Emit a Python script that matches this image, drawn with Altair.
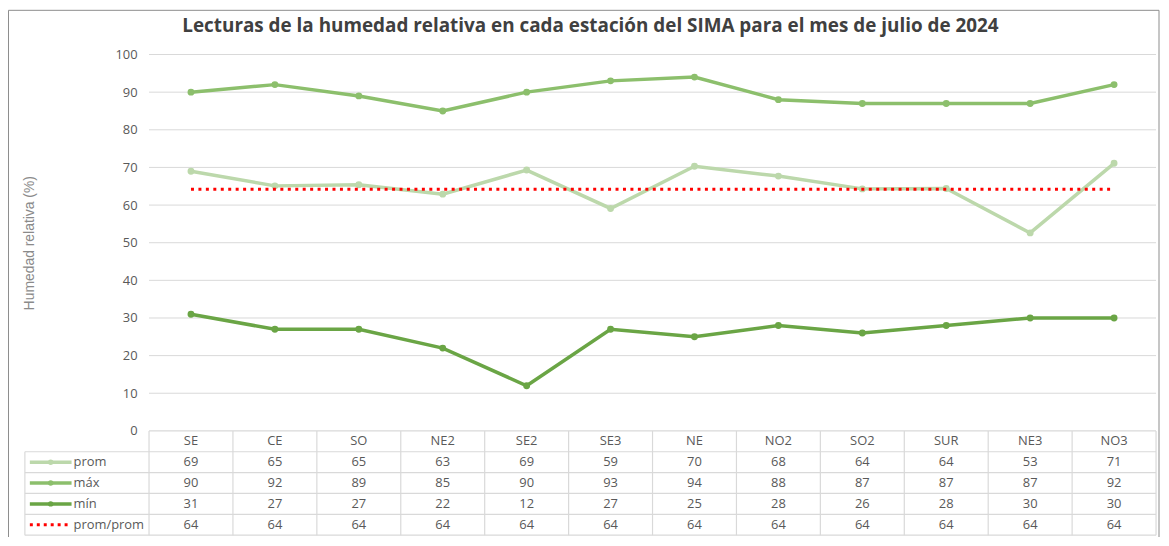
import altair as alt
import pandas as pd

# ---- data ----
stations = ["SE", "CE", "SO", "NE2", "SE2", "SE3", "NE", "NO2", "SO2", "SUR", "NE3", "NO3"]
prom = [69.0, 65.1, 65.4, 62.9, 69.3, 59.1, 70.3, 67.7, 64.3, 64.4, 52.6, 71.1]
maxv = [90, 92, 89, 85, 90, 93, 94, 88, 87, 87, 87, 92]
minv = [31, 27, 27, 22, 12, 27, 25, 28, 26, 28, 30, 30]
prom_prom = [64.2] * 12
series_names = ["prom", "máx", "mín", "prom/prom"]
series_colors = ["#bcd8ab", "#8cbf6c", "#6aa545", "#ff0000"]
y_ticks = [0, 10, 20, 30, 40, 50, 60, 70, 80, 90, 100]

# ---- layout helpers (in scale units) ----
PLOT_W = 1139
LEG_PX = 125
COL_PX = (PLOT_W - LEG_PX) / 12
LEG_U = LEG_PX / COL_PX          # legend column width in x units
PLOT_H = 484
ROW_PX = 21
PPU = (PLOT_H - 5 * ROW_PX) / 100.0
ROW_U = ROW_PX / PPU              # table row height in y units
X_DOM = [-LEG_U, 12]
Y_DOM = [-5 * ROW_U, 100]

xs = alt.Scale(domain=X_DOM, nice=False, zero=False)
ys = alt.Scale(domain=Y_DOM, nice=False, zero=False)
FONT = "Open Sans"
GRID = "#d9d9d9"
TXT = "#595959"

all_vals = [prom, maxv, minv, prom_prom]

rows = []
for s, vals in zip(series_names, all_vals):
    for i, (st, v) in enumerate(zip(stations, vals)):
        rows.append({"serie": s, "estacion": st, "xc": i + 0.5, "valor": v})
df = pd.DataFrame(rows)

color_scale = alt.Scale(domain=series_names, range=series_colors)

YAX = alt.Axis(values=y_ticks, title="Humedad relativa (%)", grid=False,
               domain=False, ticks=False, offset=-LEG_PX, labelPadding=12,
               labelFont=FONT, labelFontSize=13, labelColor=TXT,
               titleFont="Liberation Sans", titleFontSize=14, titleFontWeight="normal",
               titleColor="#8a8a8a", titleX=-LEG_PX + 5, titleY=50 * PPU,
               titleAngle=-90, titleAlign="center", titleBaseline="middle")
XQ = lambda f: alt.X(f, scale=xs, axis=None)
YQ = lambda f: alt.Y(f, scale=ys, axis=YAX)

# outer chart frame (decorative border around the whole figure)
FRAME_TOP_PX = 44.5
frame_df = pd.DataFrame({"x0": [X_DOM[0] - 16.5 / COL_PX], "x1": [12 + 3 / COL_PX],
                         "y0": [Y_DOM[0] - 12 / PPU], "y1": [100 + FRAME_TOP_PX / PPU]})
frame = alt.Chart(frame_df).mark_rect(fill="transparent", stroke="#8c8c8c",
                                      strokeWidth=1).encode(
    x=XQ("x0:Q"), x2="x1:Q", y=YQ("y0:Q"), y2="y1:Q")

# gridlines
grid_df = pd.DataFrame({"y": [t for t in y_ticks if t > 0], "x0": 0, "x1": 12})
grid = alt.Chart(grid_df).mark_rule(color=GRID, strokeWidth=1).encode(
    x=XQ("x0:Q"), x2="x1:Q", y=YQ("y:Q"))

# table lines
hl = [{"y": 0.0, "x0": 0.0, "x1": 12.0}] + [
    {"y": -k * ROW_U, "x0": -LEG_U, "x1": 12.0} for k in range(1, 6)]
vl = [{"x": float(k), "y0": 0.0, "y1": -5 * ROW_U} for k in range(0, 13)] + [
    {"x": -LEG_U, "y0": -ROW_U, "y1": -5 * ROW_U}]
hlines = alt.Chart(pd.DataFrame(hl)).mark_rule(color=GRID, strokeWidth=1.2).encode(
    x=XQ("x0:Q"), x2="x1:Q", y=YQ("y:Q"))
vlines = alt.Chart(pd.DataFrame(vl)).mark_rule(color=GRID, strokeWidth=1.2).encode(
    x=XQ("x:Q"), y=YQ("y0:Q"), y2="y1:Q")

# header text
hdr = pd.DataFrame({"estacion": stations, "xc": [i + 0.5 for i in range(12)],
                    "y": -0.5 * ROW_U})
header = alt.Chart(hdr).mark_text(font=FONT, fontSize=13, color=TXT, baseline="middle").encode(
    x=XQ("xc:Q"), y=YQ("y:Q"), text="estacion:N")

# values text
tv = df.copy()
tv["row"] = tv["serie"].map({s: k for k, s in enumerate(series_names)})
tv["y"] = -(tv["row"] + 1.5) * ROW_U
tv["txt"] = tv["valor"].round(0).astype(int).astype(str)
vals_text = alt.Chart(tv).mark_text(font=FONT, fontSize=13, color=TXT, baseline="middle").encode(
    x=XQ("xc:Q"), y=YQ("y:Q"), text="txt:N")

# legend column
sw_x0 = -LEG_U + 5 / COL_PX
sw_x1 = -LEG_U + 47 / COL_PX
leg_rows = []
for k, s in enumerate(series_names):
    yy = -(k + 1.5) * ROW_U
    leg_rows.append({"serie": s, "x": sw_x0, "y": yy, "p": 0})
    leg_rows.append({"serie": s, "x": sw_x1, "y": yy, "p": 1})
leg = pd.DataFrame(leg_rows)
leg_lines = alt.Chart(leg[leg.serie != "prom/prom"]).mark_line(strokeWidth=3.5).encode(
    x=XQ("x:Q"), y=YQ("y:Q"),
    color=alt.Color("serie:N", scale=color_scale, legend=None), detail="serie:N")
leg_dots = alt.Chart(leg[(leg.serie != "prom/prom") & (leg.p == 0)].assign(
    x=(sw_x0 + sw_x1) / 2)).mark_point(filled=True, size=30, opacity=1).encode(
    x=XQ("x:Q"), y=YQ("y:Q"),
    color=alt.Color("serie:N", scale=color_scale, legend=None))
leg_dash = alt.Chart(leg[leg.serie == "prom/prom"]).mark_line(
    strokeWidth=3, strokeDash=[3, 4]).encode(
    x=XQ("x:Q"), y=YQ("y:Q"),
    color=alt.Color("serie:N", scale=color_scale, legend=None))
leg_lab = alt.Chart(leg[leg.p == 0].assign(x=sw_x1 + 2 / COL_PX)).mark_text(
    font=FONT, fontSize=13, color=TXT, align="left", baseline="middle").encode(
    x=XQ("x:Q"), y=YQ("y:Q"), text="serie:N")

# series lines
solid = df[df.serie != "prom/prom"]
lines = alt.Chart(solid).mark_line(strokeWidth=3.5).encode(
    x=XQ("xc:Q"), y=YQ("valor:Q"),
    color=alt.Color("serie:N", scale=color_scale, legend=None), detail="serie:N")
pts = alt.Chart(solid).mark_point(filled=True, size=48, opacity=1).encode(
    x=XQ("xc:Q"), y=YQ("valor:Q"),
    color=alt.Color("serie:N", scale=color_scale, legend=None))
redline = alt.Chart(df[df.serie == "prom/prom"]).mark_line(
    strokeWidth=3, strokeDash=[3, 4.5]).encode(
    x=XQ("xc:Q"), y=YQ("valor:Q"),
    color=alt.Color("serie:N", scale=color_scale, legend=None))

chart = alt.layer(
    frame, grid, hlines, vlines, header, vals_text,
    leg_lines, leg_dots, leg_dash, leg_lab,
    lines, pts, redline,
).properties(
    width=PLOT_W, height=PLOT_H,
    background="white",
    autosize=alt.AutoSizeParams(type="none"),
    padding={"left": 17, "top": 45, "right": 5, "bottom": 0},
    title=alt.TitleParams(
        "Lecturas de la humedad relativa en cada estación del SIMA para el mes de julio de 2024",
        font=FONT, fontSize=19, fontWeight="bold", color="#404040",
        anchor="middle", offset=-26),
).configure_view(stroke=None, strokeWidth=0).configure_axis(domain=False)

chart.save("out.html", embed_options={"renderer": "svg", "actions": False})
